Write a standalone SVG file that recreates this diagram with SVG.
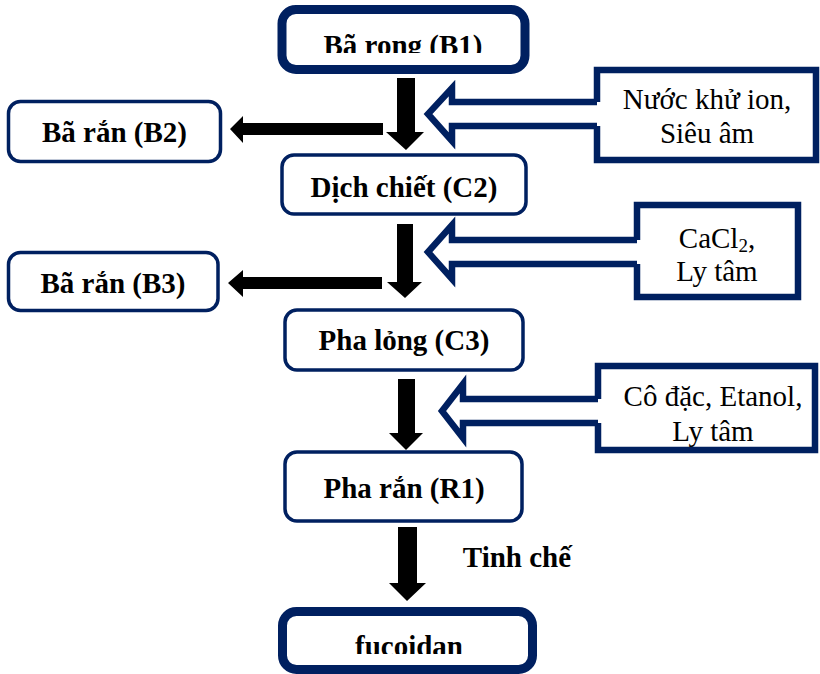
<svg xmlns="http://www.w3.org/2000/svg" width="820" height="674" viewBox="0 0 820 674">
  <style>
    .box { fill: #ffffff; stroke: #002060; }
    .heavy { stroke-width: 9; }
    .light { stroke-width: 3.5; }
    .side { fill: #ffffff; stroke: #002060; stroke-width: 6.5; stroke-linejoin: miter; }
    .flow { fill: #000000; }
    .feed { fill: #ffffff; stroke: #002060; stroke-width: 6.5; stroke-linejoin: miter; }
    text { font-family: "Liberation Serif", "Times New Roman", serif; font-size: 29px; fill: #000000; text-anchor: middle; }
    .b { font-weight: bold; }
  </style>
  <defs>
    <clipPath id="clipTop"><rect x="0" y="0" width="820" height="53"/></clipPath>
    <clipPath id="clipBottom"><rect x="0" y="0" width="820" height="654"/></clipPath>
  </defs>

  <rect x="0" y="0" width="820" height="674" fill="#ffffff"/>

  <!-- main process steps -->
  <g id="b1">
    <rect class="box heavy" x="282" y="9.5" width="243" height="60" rx="14"/>
    <text class="b" x="403" y="55" clip-path="url(#clipTop)">Bã rong (B1)</text>
  </g>
  <g id="c2">
    <rect class="box light" x="282" y="155" width="244" height="59" rx="12"/>
    <text class="b" x="404" y="197">Dịch chiết (C2)</text>
  </g>
  <g id="c3">
    <rect class="box light" x="285" y="310" width="238" height="60" rx="12"/>
    <text class="b" x="404" y="350">Pha lỏng (C3)</text>
  </g>
  <g id="r1">
    <rect class="box light" x="285" y="452" width="237" height="69" rx="12"/>
    <text class="b" x="404" y="498">Pha rắn (R1)</text>
  </g>
  <g id="fucoidan">
    <rect class="box heavy" x="282.5" y="611.5" width="250" height="58" rx="14"/>
    <text class="b" x="409" y="656" clip-path="url(#clipBottom)">fucoidan</text>
  </g>

  <!-- residues -->
  <g id="b2">
    <rect class="box light" x="8.5" y="101.5" width="212" height="60" rx="12"/>
    <text class="b" x="114.5" y="142">Bã rắn (B2)</text>
  </g>
  <g id="b3">
    <rect class="box light" x="8.5" y="252.5" width="209.5" height="58" rx="12"/>
    <text class="b" x="113" y="293">Bã rắn (B3)</text>
  </g>

  <!-- added reagents / treatments (left side open where the feed arrow joins) -->
  <g id="t1">
    <path class="side" d="M597,102 L597,70 L816,70 L816,160 L597,160 L597,126"/>
    <text x="707" y="109">Nước khử ion,</text>
    <text x="707" y="143">Siêu âm</text>
  </g>
  <g id="t2">
    <path class="side" d="M637,240 L637,205 L798,205 L798,297 L637,297 L637,264"/>
    <text x="717" y="248">CaCl<tspan font-size="19" dy="4">2</tspan><tspan dy="-4">,</tspan></text>
    <text x="717" y="281">Ly tâm</text>
  </g>
  <g id="t3">
    <path class="side" d="M598,399 L598,366 L815,366 L815,450 L598,450 L598,423"/>
    <text x="713" y="406">Cô đặc, Etanol,</text>
    <text x="713" y="441">Ly tâm</text>
  </g>

  <g id="step-label">
    <text class="b" x="517" y="567">Tinh chế</text>
  </g>

  <!-- connectors -->
  <g id="connectors">
    <!-- main downward flow -->
    <polygon class="flow" points="397,78 415,78 415,132 424,132 406,150 386,132 397,132"/>
    <polygon class="flow" points="397,224 413,224 413,282 422,282 405,298 387,282 397,282"/>
    <polygon class="flow" points="398,379 415,379 415,433 423,433 406,450 389,433 398,433"/>
    <polygon class="flow" points="398,527 417,527 417,583 426,583 407,601 389,583 398,583"/>
    <!-- residue outputs -->
    <polygon class="flow" points="383,123 383,135 243,135 243,143 230,129 243,116 243,123"/>
    <polygon class="flow" points="382,277 382,289 243,289 243,297 228,283 243,270 243,277"/>
    <!-- reagent feeds -->
    <path class="feed" d="M597,102 L452,102 L452,88 L428,114 L452,141 L452,126 L597,126"/>
    <path class="feed" d="M637,240 L452,240 L452,225 L428,252 L452,279 L452,264 L637,264"/>
    <path class="feed" d="M598,399 L463,399 L463,384 L442,411 L463,438 L463,423 L598,423"/>
  </g>
</svg>
